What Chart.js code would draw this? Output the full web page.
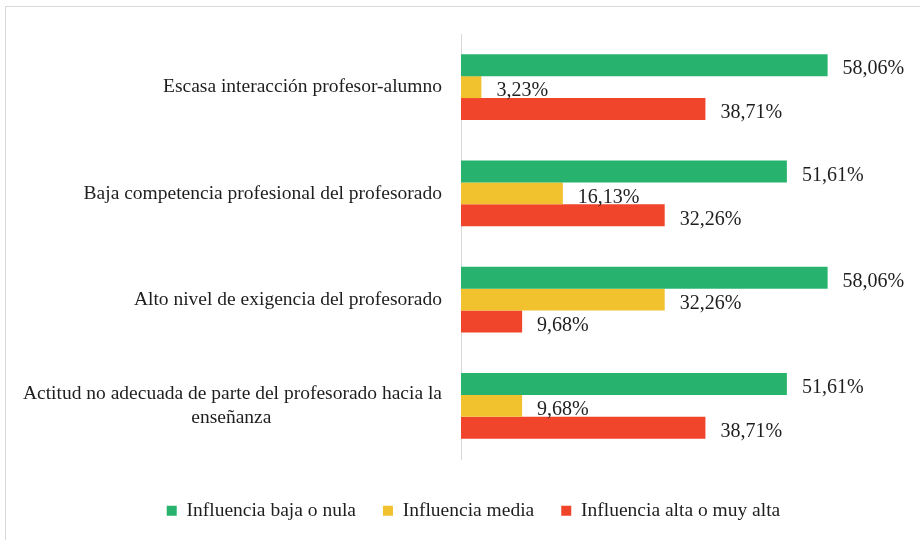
<!DOCTYPE html>
<html>
<head>
<meta charset="utf-8">
<script src="https://cdn.jsdelivr.net/npm/chart.js@4"></script>
<style>
  html, body { margin: 0; padding: 0; background: #fff; overflow: hidden; }
  #wrap { position: relative; width: 920px; height: 540px; }
  #frame { position: absolute; left: 5px; top: 6px; width: 1000px; height: 1000px; border: 1px solid #d9d9d9; }
  #box { position: absolute; left: 0; top: 0; width: 920px; height: 540px; }
</style>
</head>
<body>
<div id="wrap">
  <div id="frame"></div>
  <div id="box"><canvas id="myChart"></canvas></div>
</div>
<script>
const categories = [
    'Escasa interacción profesor-alumno',
    'Baja competencia profesional del profesorado',
    'Alto nivel de exigencia del profesorado',
    ['Actitud no adecuada de parte del profesorado hacia la', 'enseñanza']
];
const seriesNames = ['Influencia baja o nula', 'Influencia media', 'Influencia alta o muy alta'];
const baja = [58.06, 51.61, 58.06, 51.61];
const media = [3.23, 16.13, 32.26, 9.68];
const alta = [38.71, 32.26, 9.68, 38.71];

const FONT = '"Liberation Serif", "Times New Roman", serif';
const TEXT = '#1e1e1e';
const SIZE = 19.5;

// pad the second line of a two-line label so it sits centred under the first
function centerLines(label, size) {
    if (!Array.isArray(label)) return label;
    const ctx = document.createElement('canvas').getContext('2d');
    ctx.font = size + 'px ' + FONT;
    const w0 = Math.max(...label.map(l => ctx.measureText(l).width));
    const sp = ctx.measureText('\u00A0').width;
    return label.map(l => {
        const n = Math.round((w0 - ctx.measureText(l).width) / 2 / sp);
        return l + '\u00A0'.repeat(n);
    });
}

const valueLabels = {
    id: 'valueLabels',
    afterDatasetsDraw(chart) {
        const ctx = chart.ctx;
        ctx.save();
        ctx.font = '20px ' + FONT;
        ctx.fillStyle = TEXT;
        ctx.textAlign = 'left';
        ctx.textBaseline = 'middle';
        chart.data.datasets.forEach((ds, i) => {
            chart.getDatasetMeta(i).data.forEach((bar, j) => {
                const txt = ds.data[j].toFixed(2).replace('.', ',') + '%';
                ctx.fillText(txt, bar.x + 15, bar.y + 4);
            });
        });
        ctx.restore();
    }
};

// fixed legend height, and nudge it right like the original
const legendFit = {
    id: 'legendFit',
    beforeInit(chart) {
        const fit = chart.legend.fit;
        chart.legend.fit = function () {
            fit.call(this);
            this.height = 66;
        };
    },
    afterLayout(chart) {
        chart.legend.left += 22;
        chart.legend.right += 22;
    }
};

const ctx = document.getElementById('myChart').getContext('2d');
const myChart = new Chart(ctx, {
    type: 'bar',
    data: {
        labels: categories.map(c => centerLines(c, SIZE)),
        datasets: [
            { label: seriesNames[0], data: baja, backgroundColor: 'rgb(39, 179, 110)' },
            { label: seriesNames[1], data: media, backgroundColor: 'rgb(242, 193, 46)' },
            { label: seriesNames[2], data: alta, backgroundColor: 'rgb(240, 68, 43)' }
        ]
    },
    plugins: [valueLabels, legendFit],
    options: {
        indexAxis: 'y',
        responsive: true,
        maintainAspectRatio: false,
        animation: false,
        datasets: {
            bar: { categoryPercentage: 0.62, barPercentage: 1 }
        },
        layout: {
            padding: { top: 34, right: 17, left: 0, bottom: 0 }
        },
        scales: {
            x: {
                min: 0,
                max: 70,
                ticks: { display: false },
                grid: { display: false },
                border: { display: false },
                afterFit: scale => { scale.height = 15; }
            },
            y: {
                grid: { display: false, drawTicks: false },
                border: { display: true, color: '#d9d9d9', width: 1 },
                ticks: {
                    padding: 19,
                    color: TEXT,
                    font: { family: FONT, size: SIZE }
                },
                afterFit: scale => {
                    scale.width = 461;
                    scale.paddingTop = 0;
                    scale.paddingBottom = 0;
                }
            }
        },
        plugins: {
            tooltip: { enabled: false },
            legend: {
                position: 'bottom',
                labels: {
                    boxWidth: 10,
                    boxHeight: 10,
                    padding: 27,
                    color: TEXT,
                    font: { family: FONT, size: SIZE }
                }
            }
        }
    }
});
</script>
</body>
</html>
